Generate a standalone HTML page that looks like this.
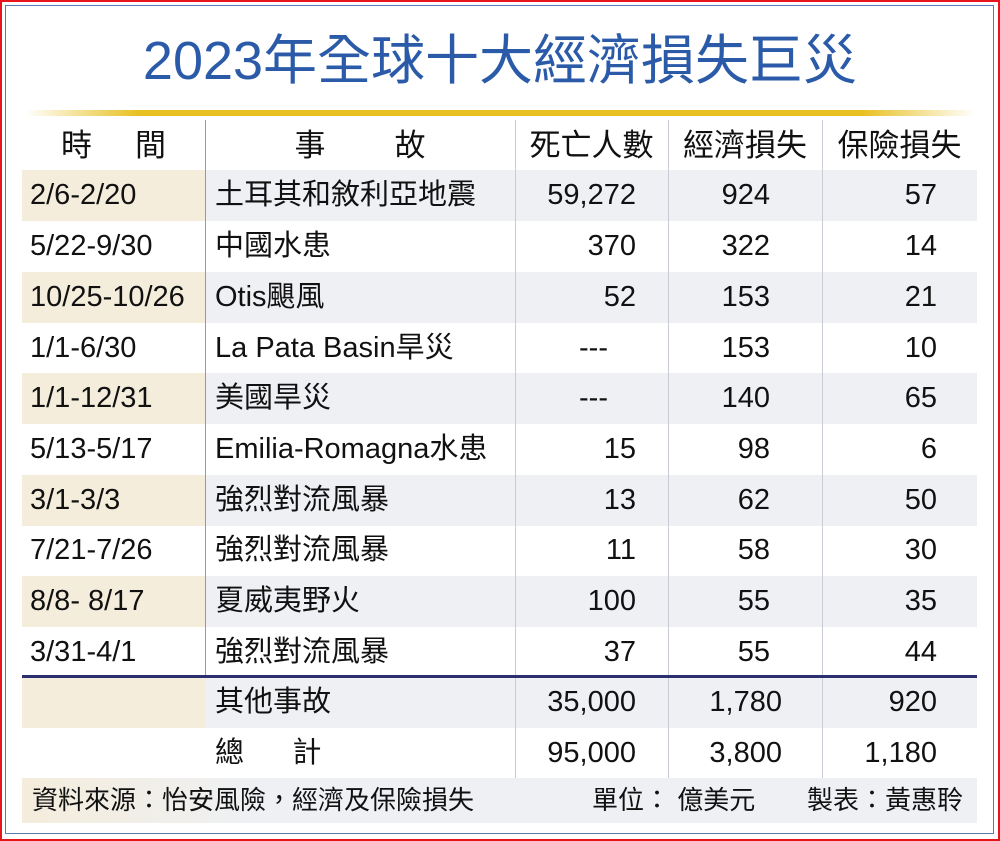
<!DOCTYPE html>
<html><head><meta charset="utf-8"><style>
*{margin:0;padding:0;box-sizing:border-box}
body{width:1000px;height:841px;background:#fff;position:relative;overflow:hidden;font-family:"Liberation Sans","Noto Sans CJK TC",sans-serif;color:#111}
.red{position:absolute;left:0;top:0;width:1000px;height:841px;border:2px solid #e8141c}
.blue{position:absolute;left:5px;top:5px;width:989px;height:829px;border:1px solid #5b78b0}
.title{position:absolute;left:0;top:28px;width:1000px;text-align:center;font-size:54px;line-height:66px;color:#2b5ba8;font-weight:normal;letter-spacing:0px}
.gold{position:absolute;left:25px;top:110px;width:950px;height:6px;background:linear-gradient(to right,#fff 0%,#e8c020 12%,#e8c020 88%,#fff 100%)}
.row{position:absolute;left:22px;width:955px;height:51px;font-size:29px;line-height:51px}
.row div{position:absolute;top:0;height:51px;white-space:nowrap}
.c1{left:0;width:183px;padding-left:8px}
.c2{left:183px;width:310px;padding-left:10px}
.c3{left:493px;width:153px;text-align:right;padding-right:32px}
.c4{left:646px;width:154px;text-align:right;padding-right:52px}
.c5{left:800px;width:155px;text-align:right;padding-right:40px}
.alt .c1{background:#f4eddc}
.alt .c2,.alt .c3,.alt .c4,.alt .c5{background:#eef0f4}
.vl{position:absolute;width:1px;background:#c8ccd4}
.hdr div{text-align:center;padding:0}
</style></head><body>
<div class="red"></div><div class="blue"></div>
<div class="title">2023年全球十大經濟損失巨災</div>
<div class="gold"></div>

<div class="row hdr" style="top:120px;height:50px;font-size:31px">
<div class="c1" style="text-align:center;padding:0;left:0;width:183px">時&nbsp;&nbsp;&nbsp;&nbsp;&nbsp;間</div>
<div class="c2" style="text-align:center;padding:0">事&nbsp;&nbsp;&nbsp;&nbsp;&nbsp;&nbsp;&nbsp;&nbsp;故</div>
<div class="c3" style="text-align:center;padding:0">死亡人數</div>
<div class="c4" style="text-align:center;padding:0">經濟損失</div>
<div class="c5" style="text-align:center;padding:0">保險損失</div>
</div>

<div class="row alt" style="top:170px"><div class="c1">2/6-2/20</div><div class="c2">土耳其和敘利亞地震</div><div class="c3">59,272</div><div class="c4">924</div><div class="c5">57</div></div>
<div class="row" style="top:221px"><div class="c1">5/22-9/30</div><div class="c2">中國水患</div><div class="c3">370</div><div class="c4">322</div><div class="c5">14</div></div>
<div class="row alt" style="top:272px"><div class="c1">10/25-10/26</div><div class="c2">Otis颶風</div><div class="c3">52</div><div class="c4">153</div><div class="c5">21</div></div>
<div class="row" style="top:323px"><div class="c1">1/1-6/30</div><div class="c2">La Pata Basin旱災</div><div class="c3" style="padding-right:60px">---</div><div class="c4">153</div><div class="c5">10</div></div>
<div class="row alt" style="top:373px"><div class="c1">1/1-12/31</div><div class="c2">美國旱災</div><div class="c3" style="padding-right:60px">---</div><div class="c4">140</div><div class="c5">65</div></div>
<div class="row" style="top:424px"><div class="c1">5/13-5/17</div><div class="c2">Emilia-Romagna水患</div><div class="c3">15</div><div class="c4">98</div><div class="c5">6</div></div>
<div class="row alt" style="top:475px"><div class="c1">3/1-3/3</div><div class="c2">強烈對流風暴</div><div class="c3">13</div><div class="c4">62</div><div class="c5">50</div></div>
<div class="row" style="top:525px"><div class="c1">7/21-7/26</div><div class="c2">強烈對流風暴</div><div class="c3">11</div><div class="c4">58</div><div class="c5">30</div></div>
<div class="row alt" style="top:576px"><div class="c1">8/8- 8/17</div><div class="c2">夏威夷野火</div><div class="c3">100</div><div class="c4">55</div><div class="c5">35</div></div>
<div class="row" style="top:627px"><div class="c1">3/31-4/1</div><div class="c2">強烈對流風暴</div><div class="c3">37</div><div class="c4">55</div><div class="c5">44</div></div>
<div class="row alt" style="top:677px"><div class="c1"></div><div class="c2">其他事故</div><div class="c3">35,000</div><div class="c4" style="padding-right:40px">1,780</div><div class="c5">920</div></div>
<div class="row" style="top:728px"><div class="c1" style="background:none"></div><div class="c2">總&nbsp;&nbsp;&nbsp;&nbsp;&nbsp;&nbsp;計</div><div class="c3">95,000</div><div class="c4" style="padding-right:40px">3,800</div><div class="c5">1,180</div></div>

<div class="vl" style="left:205px;top:120px;height:557px;background:#999"></div>
<div class="vl" style="left:515px;top:120px;height:658px"></div>
<div class="vl" style="left:668px;top:120px;height:658px"></div>
<div class="vl" style="left:822px;top:120px;height:658px"></div>
<div style="position:absolute;left:22px;top:675px;width:955px;height:3px;background:#2b2f6e"></div>

<div style="position:absolute;left:22px;top:778px;width:955px;height:45px;background:linear-gradient(to right,#f4eddc 0%,#eef0f4 25%);font-size:26px;line-height:45px">
<span style="position:absolute;left:10px">資料來源：怡安風險，經濟及保險損失</span>
<span style="position:absolute;left:570px">單位： 億美元</span>
<span style="position:absolute;left:785px">製表：黃惠聆</span>
</div>
</body></html>
